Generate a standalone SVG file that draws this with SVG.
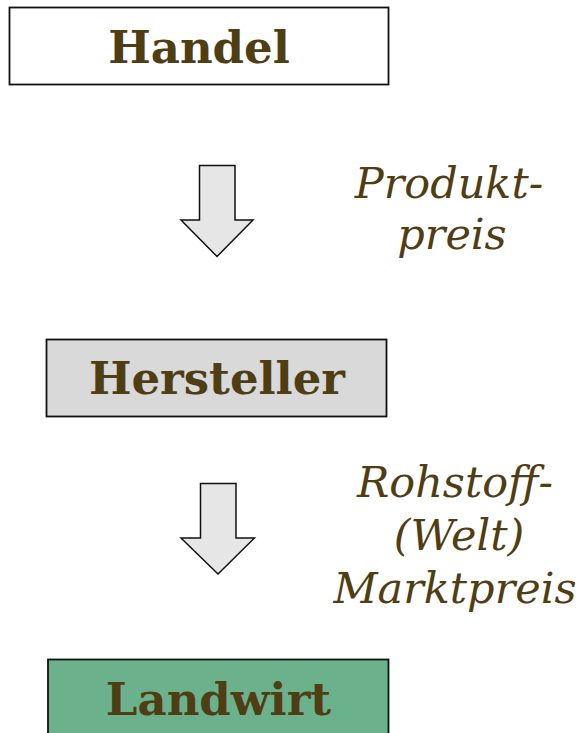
<svg xmlns="http://www.w3.org/2000/svg" width="582" height="733" viewBox="0 0 582 733">
<style>
.box{stroke:#111;stroke-width:1.8}
.t{font-family:"DejaVu Serif","Liberation Serif",serif;font-weight:bold;font-size:45px;fill:#4f3e14;text-anchor:middle}
.l{font-family:"DejaVu Serif","Liberation Serif",serif;font-style:italic;font-size:43px;fill:#4f3e14;text-anchor:middle}
.arr{fill:#e6e6e6;stroke:#111;stroke-width:1.5;stroke-linejoin:miter}
</style>
<rect width="582" height="733" fill="#fff"/>
<g id="handel">
<rect class="box" x="9.5" y="7.5" width="379" height="77" fill="#fff"/>
<text class="t" x="199" y="63">Handel</text>
</g>
<g id="hersteller">
<rect class="box" x="46.5" y="339.5" width="340" height="77" fill="#d9d9d9"/>
<text class="t" x="217" y="394">Hersteller</text>
</g>
<g id="landwirt">
<rect class="box" x="48" y="659.5" width="340.5" height="80" fill="#6bb28c"/>
<text class="t" x="218.5" y="715">Landwirt</text>
</g>
<g id="connectors">
<polygon class="arr" points="199.5,165.5 235,165.5 235,220 253,220 217,256.5 181,220 199.5,220"/>
<polygon class="arr" points="200.5,483.5 236,483.5 236,538 254.5,538 218,574 181,538 200.5,538"/>
</g>
<g id="labels">
<text class="l" x="449" y="198">Produkt-</text>
<text class="l" x="452" y="249">preis</text>
<text class="l" x="455" y="497">Rohstoff-</text>
<text class="l" x="459" y="550">(Welt)</text>
<text class="l" x="455" y="603">Marktpreis</text>
</g>
</svg>
